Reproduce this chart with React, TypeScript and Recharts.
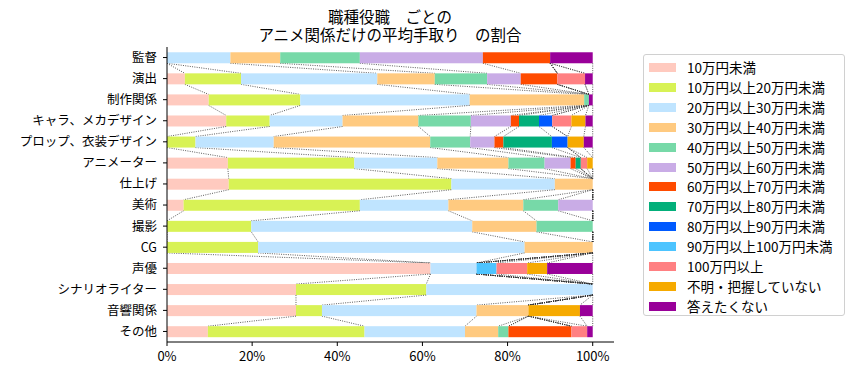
import React from 'react';
import { BarChart, Bar, XAxis, YAxis } from 'recharts';

const categories = [
  '監督', '演出', '制作関係', 'キャラ、メカデザイン', 'プロップ、衣装デザイン', 'アニメーター',
  '仕上げ', '美術', '撮影', 'CG', '声優', 'シナリオライター', '音響関係', 'その他',
];

const seriesNames = [
  '10万円未満', '10万円以上20万円未満', '20万円以上30万円未満', '30万円以上40万円未満',
  '40万円以上50万円未満', '50万円以上60万円未満', '60万円以上70万円未満', '70万円以上80万円未満',
  '80万円以上90万円未満', '90万円以上100万円未満', '100万円以上', '不明・把握していない', '答えたくない',
];

const seriesColors = [
  '#FFCABF', '#D8F255', '#BFE4FF', '#FFCA80', '#77D9A8', '#C9ACE6', '#FF4B00',
  '#03AF7A', '#005AFF', '#4DC4FF', '#FF8082', '#F6AA00', '#990099',
];

// values per series, in category order (percent)
const under10 = [0, 4.2, 9.8, 13.9, 0, 14.3, 14.5, 3.9, 0, 0, 61.9, 30.3, 30.3, 9.6];
const from10to20 = [0, 13.2, 21.5, 10.2, 6.7, 29.7, 52.3, 41.4, 19.8, 21.4, 0, 30.6, 6.1, 36.8];
const from20to30 = [14.9, 32.0, 39.8, 17.1, 18.4, 19.5, 24.3, 20.8, 51.9, 62.6, 10.8, 39.1, 36.3, 23.6];
const from30to40 = [11.7, 13.5, 26.9, 17.8, 36.8, 16.7, 8.9, 17.6, 15.1, 16.0, 0, 0, 12.2, 7.8];
const from40to50 = [18.7, 12.3, 1.1, 12.3, 9.4, 8.5, 0, 8.2, 13.2, 0, 0, 0, 0, 2.4];
const from50to60 = [28.9, 7.9, 0, 9.4, 5.7, 6.1, 0, 8.1, 0, 0, 0, 0, 0, 0];
const from60to70 = [15.8, 8.6, 0, 1.9, 2.1, 1.2, 0, 0, 0, 0, 0, 0, 0, 14.8];
const from70to80 = [0, 0, 0, 4.7, 11.4, 1.2, 0, 0, 0, 0, 0, 0, 0, 0];
const from80to90 = [0, 0, 0, 3.1, 3.7, 0, 0, 0, 0, 0, 0, 0, 0, 0];
const from90to100 = [0, 0, 0, 0, 0, 0, 0, 0, 0, 0, 4.7, 0, 0, 0];
const over100 = [0, 6.5, 0, 4.5, 0, 1.5, 0, 0, 0, 0, 7.2, 0, 0, 3.7];
const unknown = [0, 0, 0, 3.3, 3.8, 1.3, 0, 0, 0, 0, 4.7, 0, 12.1, 0];
const noAnswer = [10.0, 1.8, 0.9, 1.7, 2.1, 0, 0, 0, 0, 0, 10.7, 0, 3.0, 1.3];

const xTicks = [0, 20, 40, 60, 80, 100];
const titleLines = ['職種役職　ごとの', 'アニメ関係だけの平均手取り　の割合'];

const seriesValues = [
  under10, from10to20, from20to30, from30to40, from40to50, from50to60, from60to70,
  from70to80, from80to90, from90to100, over100, unknown, noAnswer,
];

const W = 854;
const H = 375;
const M = { top: 47, right: 240, bottom: 3, left: 0 };
const Y_AXIS_W = 167;
const X_AXIS_H = 30;
const X_MAX = 105;
const PLOT_H = H - M.top - M.bottom - X_AXIS_H;
const BAND = PLOT_H / categories.length;
const FONT = '"Noto Sans CJK JP", "Noto Sans", sans-serif';

const data: any[] = categories.map((c, i) => {
  const raw = seriesValues.map((s) => s[i]);
  const total = raw.reduce((a, b) => a + b, 0);
  const row: any = { name: c };
  let cum = 0;
  raw.forEach((v, k) => {
    const p = (v / total) * 100;
    row['k' + k] = p;
    cum += p;
    row['e' + k] = cum;
  });
  return row;
});
data.forEach((row, i) => {
  const nxt = data[i + 1];
  seriesValues.forEach((_, k) => {
    row['n' + k] = nxt ? nxt['e' + k] : null;
  });
});

const makeShape = (k: number) => (props: any) => {
  const { x, y, width, height, fill, payload, background } = props;
  const p = payload || {};
  const nextEnd = p['n' + k];
  const bx = background && background.width ? background.x : M.left + Y_AXIS_W;
  const bw = background && background.width ? background.width : W - M.left - M.right - Y_AXIS_W;
  let line = null;
  if (nextEnd != null && p['e' + k] != null) {
    const x1 = bx + (p['e' + k] / X_MAX) * bw;
    const x2 = bx + (nextEnd / X_MAX) * bw;
    line = (
      <line x1={x1} y1={y + height} x2={x2} y2={y + BAND} stroke="#333" strokeWidth={0.8} strokeDasharray="1 1.3" />
    );
  }
  return (
    <g>
      {width > 0 ? <rect x={x} y={y} width={width} height={height} fill={fill} /> : null}
      {line}
    </g>
  );
};

export default function App() {
  return (
    <div style={{ position: 'absolute', left: 0, top: 0, width: W, height: H, background: '#fff', fontFamily: FONT }}>
      <div style={{ position: 'absolute', left: 0, top: 0 }}>
        <BarChart width={W} height={H} data={data} layout="vertical" margin={M} barCategoryGap="25%">
          <XAxis
            type="number"
            domain={[0, X_MAX]}
            ticks={xTicks}
            tickFormatter={(v: number) => v + '%'}
            height={X_AXIS_H}
            tickSize={4}
            tickMargin={6}
            axisLine={{ stroke: '#000' }}
            tickLine={{ stroke: '#000' }}
            tick={{ fill: '#000', fontSize: 13, fontFamily: FONT }}
            allowDataOverflow
          />
          <XAxis
            xAxisId="top"
            orientation="top"
            type="number"
            domain={[0, X_MAX]}
            height={0}
            tick={false}
            tickLine={false}
            axisLine={{ stroke: '#000' }}
          />
          <YAxis
            type="category"
            dataKey="name"
            width={Y_AXIS_W}
            tickSize={4}
            tickMargin={6}
            interval={0}
            axisLine={{ stroke: '#000' }}
            tickLine={{ stroke: '#000' }}
            tick={{ fill: '#000', fontSize: 12.5, fontFamily: FONT }}
          />
          <YAxis
            yAxisId="right"
            orientation="right"
            type="category"
            dataKey="name"
            width={0}
            tick={false}
            tickLine={false}
            axisLine={{ stroke: '#000' }}
          />
          {seriesNames.map((n, k) => (
            <Bar
              key={n}
              dataKey={'k' + k}
              name={n}
              stackId="a"
              fill={seriesColors[k]}
              isAnimationActive={false}
              shape={makeShape(k)}
            />
          ))}
        </BarChart>
      </div>
      <div
        style={{
          position: 'absolute',
          left: 190,
          width: 400,
          top: 6.5,
          textAlign: 'center',
          fontSize: 15.5,
          lineHeight: '18.5px',
          color: '#000',
          whiteSpace: 'pre',
        }}
      >
        {titleLines.join('\n')}
      </div>
      <div
        style={{
          position: 'absolute',
          left: 643,
          top: 54,
          width: 202,
          height: 262,
          border: '1px solid #d0d0d0',
          borderRadius: 3,
          boxSizing: 'border-box',
        }}
      >
        {seriesNames.map((n, k) => (
          <div key={n} style={{ position: 'absolute', left: 0, top: 2 + k * 19.9, height: 20, width: 200 }}>
            <div
              style={{ position: 'absolute', left: 5, top: 6, width: 27, height: 9, background: seriesColors[k] }}
            />
            <div
              style={{
                position: 'absolute',
                left: 43,
                top: 0,
                fontSize: 13.5,
                lineHeight: '20px',
                color: '#000',
                whiteSpace: 'nowrap',
              }}
            >
              {n}
            </div>
          </div>
        ))}
      </div>
    </div>
  );
}
